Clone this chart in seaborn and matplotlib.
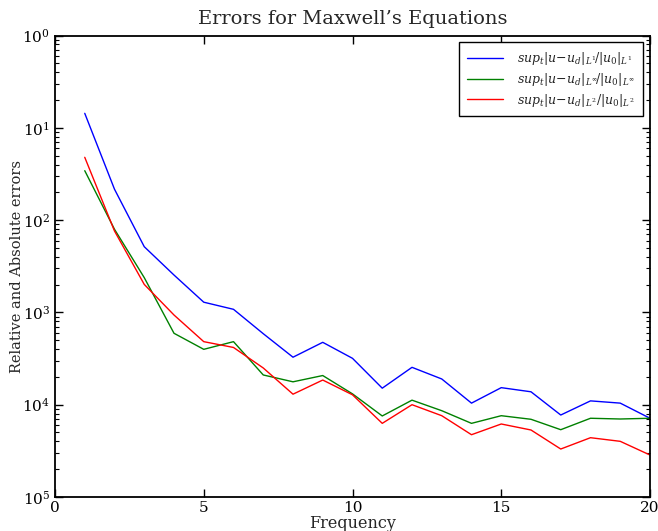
import matplotlib
matplotlib.use("Agg")
import matplotlib.pyplot as plt
import matplotlib.ticker as mticker
import seaborn as sns
import pandas as pd
import numpy as np

freq = list(range(1, 21))
err_l1 = [0.1435, 0.0216, 0.00515, 0.00254, 0.00129, 0.00108, 0.000588, 0.000327,
          0.000474, 0.000318, 0.000151, 0.000254, 0.00019, 0.000104, 0.000153,
          0.000138, 0.0000773, 0.00011, 0.000104, 0.0000713]
err_linf = [0.0343, 0.00795, 0.00238, 0.000594, 0.000398, 0.000482, 0.00021, 0.000177,
            0.000207, 0.000131, 0.0000755, 0.000112, 0.0000861, 0.0000628, 0.000076,
            0.0000695, 0.0000536, 0.0000713, 0.00007, 0.0000713]
err_l2 = [0.0479, 0.00762, 0.00201, 0.000937, 0.000482, 0.000417, 0.00025, 0.00013,
          0.000185, 0.000128, 0.0000628, 0.0001, 0.000076, 0.0000473, 0.0000618,
          0.0000532, 0.0000331, 0.0000439, 0.0000401, 0.0000285]
labels = [r'$sup_t|u\!-\!u_d|_{L^1}\!/|u_0|_{L^1}$',
          r'$sup_t|u\!-\!u_d|_{L^\infty}\!/|u_0|_{L^\infty}$',
          r'$sup_t|u\!-\!u_d|_{L^2}/|u_0|_{L^2}$']
ytick_labels = [r'$10^{0}$', r'$10^{1}$', r'$10^{2}$', r'$10^{3}$', r'$10^{4}$', r'$10^{5}$']
xticks = [0, 5, 10, 15, 20]

sns.set_style("ticks")
plt.rcParams['font.family'] = ['DejaVu Serif']
plt.rcParams['mathtext.fontset'] = 'dejavuserif'

fig = plt.figure(figsize=(6.58, 5.31), dpi=100)
ax = fig.add_axes([55/658, 1-497/531, (650-55)/658, (497-35.5)/531])

colors = ['#0000ff', '#008000', '#ff0000']
for ys, lab, c in zip([err_l1, err_linf, err_l2], labels, colors):
    df = pd.DataFrame({'x': freq, 'y': ys})
    sns.lineplot(data=df, x='x', y='y', ax=ax, color=c, lw=1.0, label=lab)

ax.set_yscale('log')
ax.set_xlim(0, 20)
ax.set_ylim(1e-5, 1)
ax.set_xticks(xticks)
ax.set_xticklabels([str(t) for t in xticks])
ax.yaxis.set_major_locator(mticker.FixedLocator([1, 1e-1, 1e-2, 1e-3, 1e-4, 1e-5]))
ax.yaxis.set_major_formatter(mticker.FixedFormatter(ytick_labels))
ax.yaxis.set_minor_locator(mticker.LogLocator(base=10, subs=np.arange(2, 10), numticks=20))
ax.yaxis.set_minor_formatter(mticker.NullFormatter())
ax.tick_params(which='both', direction='in', top=True, right=True, labelsize=11, colors='black')
ax.tick_params(which='major', length=6, width=1)
ax.tick_params(which='minor', length=3, width=0.8)
ax.tick_params(axis='x', pad=3)
for s in ax.spines.values():
    s.set_visible(True)
    s.set_linewidth(1.3)
    s.set_color('black')

ax.set_xlabel('Frequency', fontsize=11.5)
ax.set_ylabel('Relative and Absolute errors', fontsize=10.5)
ax.xaxis.set_label_coords(0.5, -0.040)
ax.yaxis.set_label_coords(-0.052, 0.5)
ax.set_title("Errors for Maxwell\u2019s Equations", fontsize=14, pad=8)

leg = ax.legend(loc='upper right', fontsize=9, frameon=True, fancybox=False,
                edgecolor='black', framealpha=1, borderaxespad=0.55, handlelength=2.9,
                handletextpad=1.1, labelspacing=0.3, borderpad=0.62)
leg.get_frame().set_linewidth(1.0)

fig.savefig('out.png', dpi=100)
